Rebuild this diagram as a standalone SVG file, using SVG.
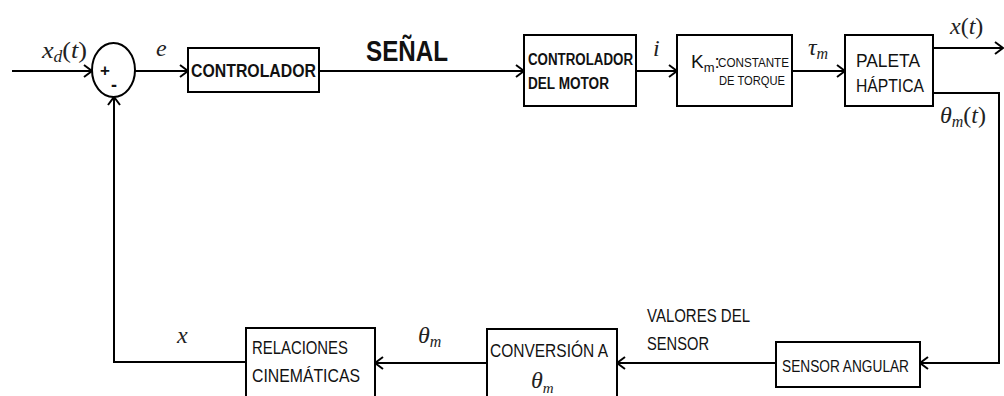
<svg xmlns="http://www.w3.org/2000/svg" width="1004" height="396" viewBox="0 0 1004 396">
<style>
.box{fill:#fff;stroke:#000;stroke-width:2}
.ln{fill:none;stroke:#000;stroke-width:2}
.t{font-family:"Liberation Sans",Arial,sans-serif;fill:#111}
.b{font-weight:bold}
.m{font-family:"Liberation Serif","Times New Roman",serif;font-style:italic;fill:#222}
</style>
<defs>
<marker id="ar" markerUnits="userSpaceOnUse" markerWidth="12" markerHeight="14" refX="10" refY="7" orient="auto">
<path d="M2,1 L10,7 L2,13" fill="none" stroke="#000" stroke-width="2"/>
</marker>
</defs>
<rect width="1004" height="396" fill="#fff"/>
<g id="connectors">
<path class="ln" d="M12,71 H92" marker-end="url(#ar)"/>
<path class="ln" d="M135,71 H188" marker-end="url(#ar)"/>
<path class="ln" d="M319,71 H524" marker-end="url(#ar)"/>
<path class="ln" d="M636,71 H677" marker-end="url(#ar)"/>
<path class="ln" d="M792,71 H845" marker-end="url(#ar)"/>
<path class="ln" d="M933,48 H1003" marker-end="url(#ar)"/>
<path class="ln" d="M933,93 H999 V363 H920" marker-end="url(#ar)"/>
<path class="ln" d="M776,363 H617" marker-end="url(#ar)"/>
<path class="ln" d="M487,363 H375" marker-end="url(#ar)"/>
<path class="ln" d="M246,362 H114 V97" marker-end="url(#ar)"/>
</g>
<g id="sum">
<ellipse cx="113.5" cy="70" rx="21.5" ry="27" class="box"/>
<text class="t b" x="105" y="76" font-size="17" text-anchor="middle">+</text>
<text class="t b" x="114" y="91" font-size="18" text-anchor="middle">-</text>
</g>
<g id="controlador">
<rect class="box" x="188" y="48" width="131" height="44"/>
<text class="t b" x="191" y="77" font-size="19" textLength="125" lengthAdjust="spacingAndGlyphs">CONTROLADOR</text>
</g>
<g id="motor">
<rect class="box" x="524" y="35" width="112" height="71"/>
<text class="t b" x="528" y="65" font-size="16" textLength="105" lengthAdjust="spacingAndGlyphs">CONTROLADOR</text>
<text class="t b" x="528" y="89" font-size="16" textLength="81" lengthAdjust="spacingAndGlyphs">DEL MOTOR</text>
</g>
<g id="km">
<rect class="box" x="677" y="35" width="115" height="71"/>
<text class="t" x="691" y="68" font-size="19">K<tspan font-size="13" dy="4">m</tspan><tspan font-size="19" dy="-4">:</tspan></text>
<text class="t" x="718" y="67" font-size="13" textLength="71" lengthAdjust="spacingAndGlyphs">CONSTANTE</text>
<text class="t" x="719" y="85" font-size="13" textLength="66" lengthAdjust="spacingAndGlyphs">DE TORQUE</text>
</g>
<g id="paleta">
<rect class="box" x="845" y="35" width="88" height="71"/>
<text class="t" x="856" y="67" font-size="18" textLength="64" lengthAdjust="spacingAndGlyphs">PALETA</text>
<text class="t" x="856" y="92" font-size="18" textLength="68" lengthAdjust="spacingAndGlyphs">HÁPTICA</text>
</g>
<g id="sensor">
<rect class="box" x="776" y="342" width="144" height="45"/>
<text class="t" x="782" y="372" font-size="16" textLength="127" lengthAdjust="spacingAndGlyphs">SENSOR ANGULAR</text>
</g>
<g id="conversion">
<rect class="box" x="487" y="329" width="130" height="80"/>
<text class="t" x="490" y="357" font-size="18" textLength="118" lengthAdjust="spacingAndGlyphs">CONVERSIÓN A</text>
<text class="m" x="531" y="388" font-size="24">θ<tspan font-size="15" dy="5">m</tspan></text>
</g>
<g id="relaciones">
<rect class="box" x="246" y="328" width="129" height="80"/>
<text class="t" x="252" y="354" font-size="18" textLength="96" lengthAdjust="spacingAndGlyphs">RELACIONES</text>
<text class="t" x="252" y="382" font-size="18" textLength="108" lengthAdjust="spacingAndGlyphs">CINEMÁTICAS</text>
</g>
<g id="labels">
<text class="m" x="42" y="58" font-size="24" textLength="45" lengthAdjust="spacingAndGlyphs">x<tspan font-size="16" dy="4">d</tspan><tspan dy="-4" font-style="normal">(</tspan>t<tspan font-style="normal">)</tspan></text>
<text class="m" x="156" y="56" font-size="24">e</text>
<text class="t b" x="366" y="61" font-size="30" textLength="82" lengthAdjust="spacingAndGlyphs">SEÑAL</text>
<text class="m" x="653" y="56" font-size="24">i</text>
<text class="m" x="808" y="55" font-size="24">τ<tspan font-size="16" dy="4">m</tspan></text>
<text class="m" x="950" y="34" font-size="24">x<tspan font-style="normal">(</tspan>t<tspan font-style="normal">)</tspan></text>
<text class="m" x="940" y="123" font-size="24">θ<tspan font-size="16" dy="4">m</tspan><tspan dy="-4" font-style="normal">(</tspan>t<tspan font-style="normal">)</tspan></text>
<text class="m" x="177" y="343" font-size="24">x</text>
<text class="m" x="418" y="343" font-size="24">θ<tspan font-size="16" dy="4">m</tspan></text>
<text class="t" x="647" y="322" font-size="18" textLength="103" lengthAdjust="spacingAndGlyphs">VALORES DEL</text>
<text class="t" x="647" y="350" font-size="18" textLength="62" lengthAdjust="spacingAndGlyphs">SENSOR</text>
</g>
</svg>
